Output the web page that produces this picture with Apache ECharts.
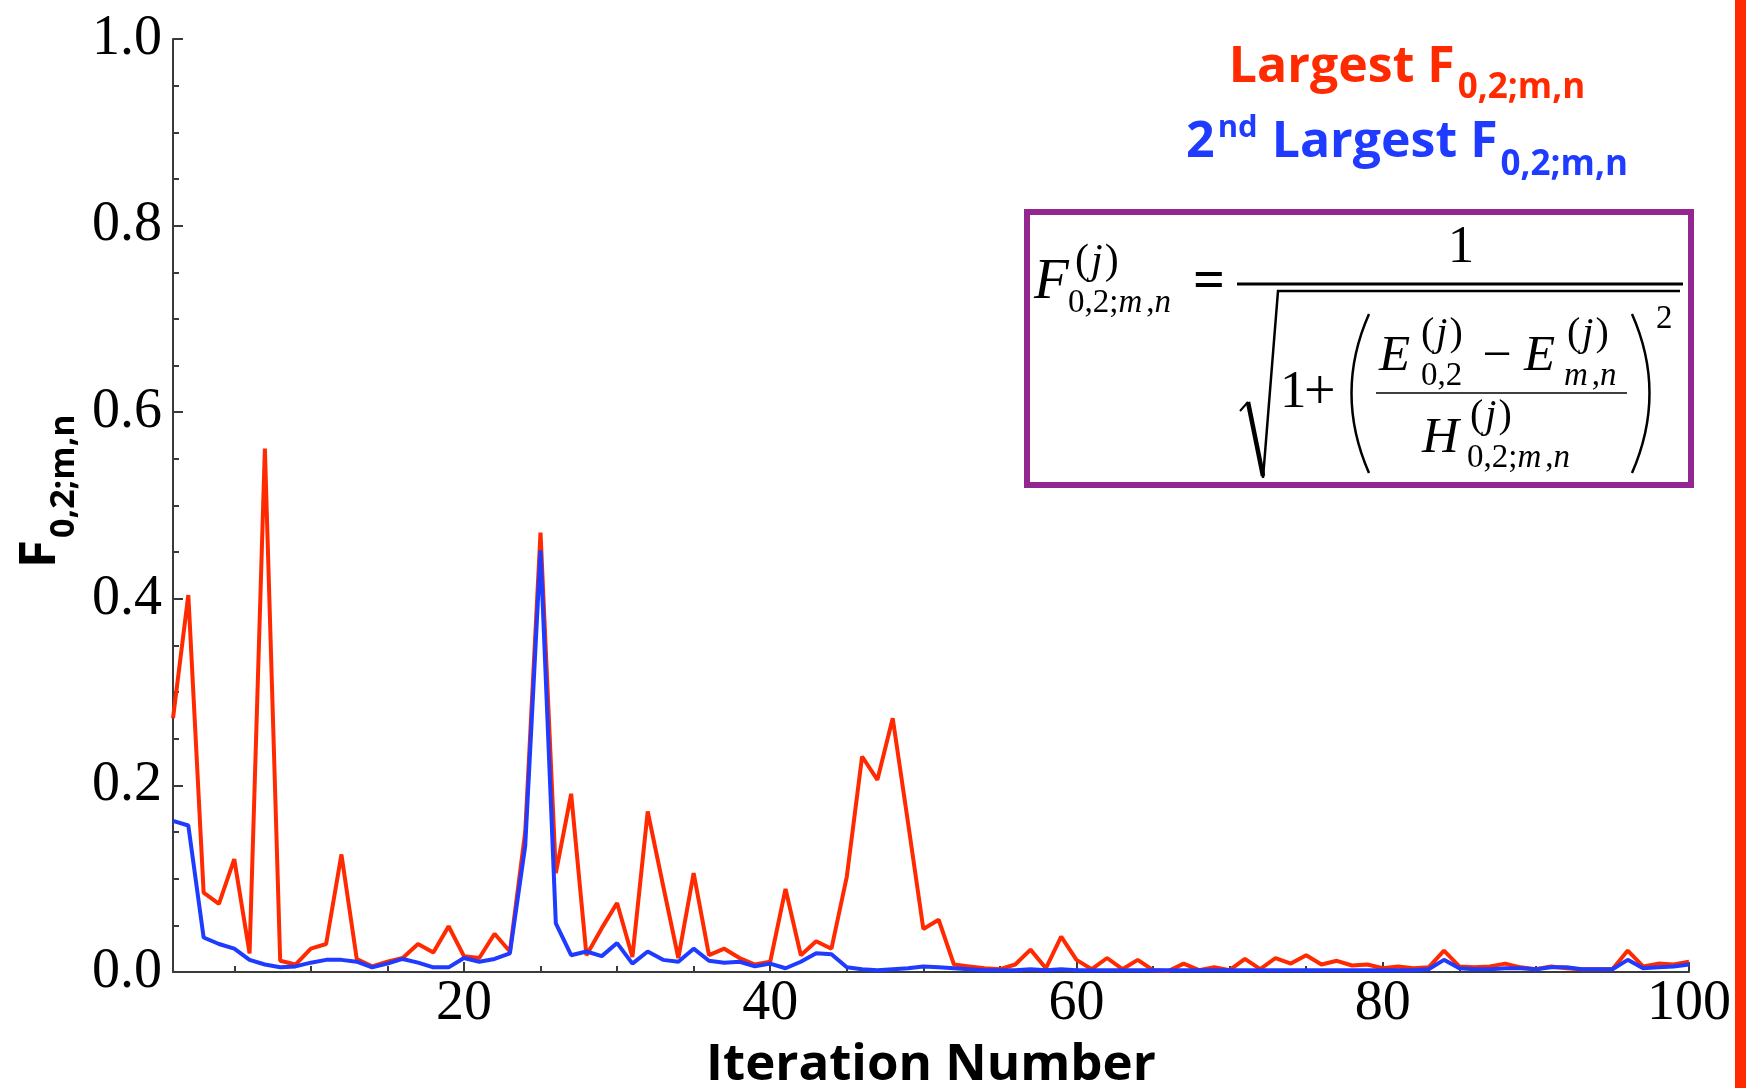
<!DOCTYPE html>
<html>
<head>
<meta charset="utf-8">
<script src="https://cdn.jsdelivr.net/npm/echarts@6/dist/echarts.min.js"></script>
<style>
  html, body { margin: 0; padding: 0; background: #fff; }
  #chart { width: 1746px; height: 1088px; }
</style>
</head>
<body>
<div id="chart"></div>
<script>
// Overlap value F_{0,2;m,n} per iteration (iteration number = index + 1)
const largestF = [
  0.272, 0.404, 0.085, 0.073, 0.121, 0.020, 0.561, 0.012, 0.008, 0.025,
  0.030, 0.126, 0.014, 0.006, 0.011, 0.015, 0.030, 0.021, 0.049, 0.017,
  0.015, 0.041, 0.022, 0.150, 0.471, 0.106, 0.191, 0.018, 0.047, 0.074,
  0.016, 0.172, 0.093, 0.015, 0.106, 0.018, 0.025, 0.015, 0.008, 0.011,
  0.089, 0.018, 0.033, 0.025, 0.102, 0.231, 0.206, 0.272, 0.160, 0.046,
  0.056, 0.008, 0.006, 0.004, 0.003, 0.008, 0.024, 0.004, 0.038, 0.013,
  0.003, 0.015, 0.003, 0.013, 0.002, 0.001, 0.009, 0.002, 0.005, 0.002,
  0.014, 0.003, 0.015, 0.009, 0.018, 0.008, 0.012, 0.007, 0.008, 0.004,
  0.006, 0.004, 0.005, 0.023, 0.006, 0.005, 0.006, 0.009, 0.005, 0.003,
  0.006, 0.004, 0.003, 0.003, 0.003, 0.023, 0.006, 0.009, 0.008, 0.011
];
const secondLargestF = [
  0.162, 0.157, 0.037, 0.030, 0.025, 0.013, 0.008, 0.005, 0.006, 0.010,
  0.013, 0.013, 0.011, 0.005, 0.009, 0.014, 0.010, 0.005, 0.005, 0.015,
  0.011, 0.014, 0.020, 0.135, 0.452, 0.052, 0.018, 0.022, 0.017, 0.031,
  0.009, 0.022, 0.013, 0.011, 0.025, 0.012, 0.010, 0.011, 0.006, 0.009,
  0.004, 0.011, 0.020, 0.019, 0.005, 0.003, 0.002, 0.003, 0.004, 0.006,
  0.005, 0.004, 0.003, 0.002, 0.002, 0.002, 0.003, 0.002, 0.003, 0.002,
  0.002, 0.002, 0.002, 0.002, 0.002, 0.002, 0.002, 0.002, 0.002, 0.002,
  0.002, 0.002, 0.002, 0.002, 0.002, 0.002, 0.002, 0.002, 0.002, 0.002,
  0.002, 0.002, 0.003, 0.013, 0.004, 0.003, 0.003, 0.004, 0.004, 0.003,
  0.005, 0.005, 0.003, 0.003, 0.003, 0.013, 0.004, 0.005, 0.006, 0.008
];
const xMajorTicks = [20, 40, 60, 80, 100];
const xMinorTicks = [5, 10, 15, 25, 30, 35, 45, 50, 55, 65, 70, 75, 85, 90, 95];
const yMin = 0, yMax = 1, yStep = 0.2;

const RED = '#ff2a00';
const BLUE = '#1f3bff';
const PURPLE = '#93278f';
const AXIS = '#3a3a3a';
const SERIF = '"Liberation Serif", "Times New Roman", serif';
const SANS = '"Open Sans", "Noto Sans", sans-serif';

// --- text helpers: place text by its alphabetic baseline ---
const measureCtx = document.createElement('canvas').getContext('2d');
function textWidth(str, font) {
  measureCtx.font = font;
  measureCtx.textBaseline = 'alphabetic';
  return measureCtx.measureText(str).width;
}
// distance from the alphabetic baseline up to the canvas "middle" baseline
function midOffset(font) {
  measureCtx.font = font;
  measureCtx.textBaseline = 'alphabetic';
  const a = measureCtx.measureText('H').actualBoundingBoxAscent;
  measureCtx.textBaseline = 'middle';
  const b = measureCtx.measureText('H').actualBoundingBoxAscent;
  measureCtx.textBaseline = 'alphabetic';
  return a - b;
}
function label(str, font, x, baseline, fill, align) {
  const a = align || 'left';
  return {
    type: 'text', x: x, y: baseline - midOffset(font), z: 50, silent: true,
    style: { text: str, font: font, fill: fill, align: a, verticalAlign: 'middle',
             textAlign: a, textVerticalAlign: 'middle' }
  };
}
// pieces: [text, font, baselineShift, gapBefore]
function runWidth(pieces) {
  return pieces.reduce((w, p) => w + (p[3] || 0) + textWidth(p[0], p[1]), 0);
}
function run(pieces, x, baseline, fill) {
  const els = [];
  let cx = x;
  pieces.forEach(p => {
    cx += (p[3] || 0);
    els.push(label(p[0], p[1], cx, baseline + (p[2] || 0), fill));
    cx += textWidth(p[0], p[1]);
  });
  return els;
}

// --- legend text (top right) ---
const legMain = `bold 50px ${SANS}`;
const legSub = `bold 35px ${SANS}`;
const legSup = `bold 31px ${SANS}`;
const legendLine1 = [['Largest F', legMain, 0, 0], ['0,2;m,n', legSub, 16, 3]];
const legendLine2 = [['2', legMain, 0, 0], ['nd', legSup, -20, 3], [' Largest F', legMain, 0, 1], ['0,2;m,n', legSub, 18, 3]];
const legendCenter = 1407;

// --- formula inside the framed box ---
const up = s => `${s}px ${SERIF}`;
const it = s => `italic ${s}px ${SERIF}`;
const supJ = s => [['(', up(s), 0, 0], ['j', it(s), 0, 2], [')', up(s), 0, 2]];
const subFull = s => [['0,2;', up(s), 0, 0], ['m', it(s), 0, 0], [',', up(s), 0, 4], ['n', it(s), 0, 0]];
const subMN = s => [['m', it(s), 0, 0], [',', up(s), 0, 4], ['n', it(s), 0, 0]];

const ink = '#000';
const formula = [].concat(
  [label('F', it(57), 1034, 298, ink)],
  run(supJ(42), 1075, 273, ink),
  run(subFull(33), 1068, 312, ink),
  [label('=', `bold 56px ${SERIF}`, 1193, 298, ink)],
  [{ type: 'line', z: 50, silent: true, shape: { x1: 1237, y1: 284, x2: 1683, y2: 284 }, style: { stroke: ink, lineWidth: 3 } }],
  [label('1', up(53), 1461, 262, ink, 'center')],
  // radical sign: short tick, thick descending stroke, thin rising stroke, vinculum
  [{ type: 'polyline', z: 50, silent: true,
     shape: { points: [[1240, 411], [1248, 402]] },
     style: { stroke: ink, lineWidth: 2, fill: null } }],
  [{ type: 'line', z: 50, silent: true, shape: { x1: 1248, y1: 402, x2: 1263, y2: 476 }, style: { stroke: ink, lineWidth: 4.5 } }],
  [{ type: 'polyline', z: 50, silent: true,
     shape: { points: [[1263, 478], [1278, 291], [1680, 291]] },
     style: { stroke: ink, lineWidth: 2.5, fill: null } }],
  [label('1', up(53), 1280, 407, ink)],
  [label('+', up(56), 1304, 409, ink)],
  [{ type: 'bezierCurve', z: 50, silent: true, shape: { x1: 1369, y1: 314, x2: 1369, y2: 473, cpx1: 1334, cpy1: 393 }, style: { stroke: ink, lineWidth: 2.5, fill: null } }],
  [{ type: 'bezierCurve', z: 50, silent: true, shape: { x1: 1632, y1: 314, x2: 1632, y2: 473, cpx1: 1667, cpy1: 393 }, style: { stroke: ink, lineWidth: 2.5, fill: null } }],
  [label('2', up(33), 1656, 328, ink)],
  [label('E', it(51), 1379, 370, ink)],
  run(supJ(40), 1421, 345, ink),
  run([['0,2', up(33), 0, 0]], 1421, 385, ink),
  [label('\u2212', up(52), 1497, 371, ink, 'center')],
  [label('E', it(51), 1524, 370, ink)],
  run(supJ(40), 1567, 345, ink),
  run(subMN(33), 1564, 385, ink),
  [{ type: 'line', z: 50, silent: true, shape: { x1: 1376, y1: 393, x2: 1627, y2: 393 }, style: { stroke: ink, lineWidth: 1.5 } }],
  [label('H', it(51), 1422, 452, ink)],
  run(supJ(40), 1470, 427, ink),
  run(subFull(33), 1467, 467, ink)
);

const chart = echarts.init(document.getElementById('chart'), null, { renderer: 'canvas' });

const option = {
  animation: false,
  backgroundColor: '#fff',
  grid: { left: 173, right: 57, top: 39, bottom: 116, containLabel: false },
  xAxis: [
    {
      type: 'value', min: 1, max: 100, position: 'bottom',
      axisLine: { show: true, onZero: false, lineStyle: { color: AXIS, width: 2 } },
      axisTick: { show: true, inside: true, length: 10, customValues: xMajorTicks, lineStyle: { color: AXIS, width: 2 } },
      axisLabel: { show: true, customValues: xMajorTicks, margin: 4, color: '#000', fontFamily: SERIF, fontSize: 56 },
      splitLine: { show: false }
    },
    {
      type: 'value', min: 1, max: 100, position: 'bottom',
      axisLine: { show: false, onZero: false },
      axisTick: { show: true, inside: true, length: 6, customValues: xMinorTicks, lineStyle: { color: AXIS, width: 2 } },
      axisLabel: { show: false },
      splitLine: { show: false }
    }
  ],
  yAxis: {
    type: 'value', min: yMin, max: yMax, interval: yStep,
    axisLine: { show: true, lineStyle: { color: AXIS, width: 2 } },
    axisTick: { show: true, inside: true, length: 10, lineStyle: { color: AXIS, width: 2 } },
    minorTick: { show: true, splitNumber: 4, length: 6, lineStyle: { color: AXIS, width: 2 } },
    axisLabel: { margin: 11, color: '#000', fontFamily: SERIF, fontSize: 56, formatter: v => v.toFixed(1) },
    splitLine: { show: false },
    minorSplitLine: { show: false }
  },
  series: [
    {
      name: 'Largest F', type: 'line', xAxisIndex: 0, showSymbol: false, clip: false, z: 3,
      lineStyle: { color: RED, width: 4 }, itemStyle: { color: RED },
      data: largestF.map((v, i) => [i + 1, v])
    },
    {
      name: '2nd Largest F', type: 'line', xAxisIndex: 0, showSymbol: false, clip: false, z: 4,
      lineStyle: { color: BLUE, width: 4 }, itemStyle: { color: BLUE },
      data: secondLargestF.map((v, i) => [i + 1, v])
    }
  ],
  graphic: [].concat(
    // red band on the right edge
    [{ type: 'rect', z: 40, silent: true, shape: { x: 1735, y: 0, width: 11, height: 1088 }, style: { fill: RED } }],
    // axis titles
    [label('Iteration Number', `bold 51px ${SANS}`, 931, 1080, '#000', 'center')],
    [{ type: 'group', x: 55, y: 568, rotation: Math.PI / 2, z: 50,
       children: run([['F', `bold 51px ${SANS}`, 0, 0], ['0,2;m,n', `bold 34px ${SANS}`, 19, 2]], 0, 0, '#000') }],
    // legend lines
    run(legendLine1, legendCenter - runWidth(legendLine1) / 2, 82, RED),
    run(legendLine2, legendCenter - runWidth(legendLine2) / 2, 157, BLUE),
    // framed formula
    [{ type: 'rect', z: 45, silent: true, shape: { x: 1027, y: 212, width: 664, height: 273 }, style: { fill: '#fff', stroke: PURPLE, lineWidth: 6 } }],
    formula
  )
};

chart.setOption(option);
</script>
</body>
</html>
